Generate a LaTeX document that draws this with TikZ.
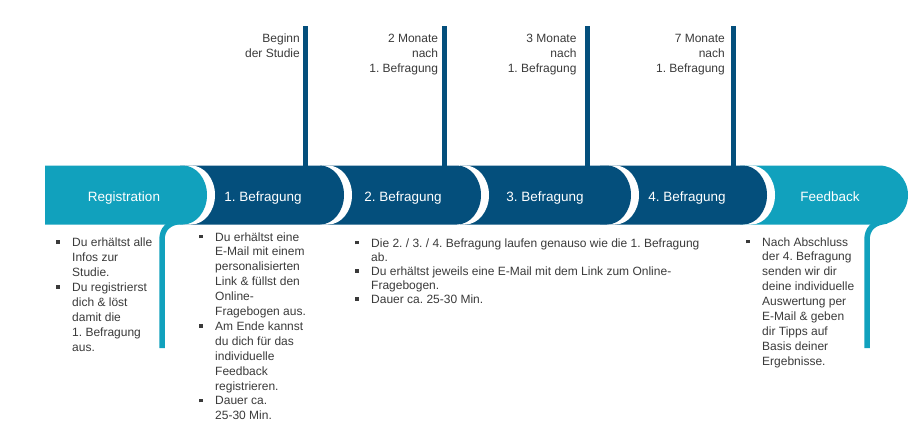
\documentclass[tikz,border=0pt]{standalone}
\usepackage{fontspec}
\setmainfont{Liberation Sans}
\usepackage{array}
\frenchspacing
\definecolor{dblue}{RGB}{4,79,124}
\definecolor{lteal}{RGB}{17,161,189}
\definecolor{txt}{RGB}{58,58,58}
\newcommand{\sqb}{\textcolor{txt}{\rule[2.6pt]{3.8pt}{3.8pt}}}
% xs, xe, rx, colour
\newcommand{\mysegment}[4]{%
  \fill[white] (#1+8,165.5) -- (#2-#3+8,165.5) arc[start angle=90,end angle=-90,x radius={#3pt},y radius=29.5pt] -- (#1+8,224.5) -- cycle;
  \fill[#4] (#1,165.5) -- (#2-#3,165.5) arc[start angle=90,end angle=-90,x radius={#3pt},y radius=29.5pt] -- (#1,224.5) -- cycle;
}
\begin{document}
\begin{tikzpicture}[x=1pt,y=-1pt,
  lbl/.style={text=white,font=\fontsize{13.5}{16}\selectfont,anchor=base,inner sep=0pt},
  toplbl/.style={text=txt,font=\fontsize{12}{15}\selectfont,anchor=base east,inner sep=0pt},
  bul/.style={text=txt,font=\fontsize{12}{14.9}\selectfont,anchor=base west,inner sep=0pt},
  tickline/.style={draw=dblue,line width=5pt},
  tail/.style={draw=lteal,line width=5.5pt}
]
\useasboundingbox (0,0) rectangle (918,440);

% segments, right to left so that each left one lies on top
\mysegment{740}{908}{29}{lteal}
\mysegment{600}{767}{24}{dblue}
\mysegment{460}{631}{24}{dblue}
\mysegment{320}{481}{24}{dblue}
\mysegment{180}{344}{24}{dblue}
\mysegment{45}{207}{24}{lteal}

% tails
\coordinate (t1b) at (162,348);
\coordinate (t1a) at (162,240);
\coordinate (t1c) at (182,221);
\draw[tail] (t1b) -- (t1a) .. controls (162,229) and (168,222.5) .. (t1c);
\coordinate (t2b) at (867,348);
\coordinate (t2a) at (867,240);
\coordinate (t2c) at (887,221);
\draw[tail] (t2b) -- (t2a) .. controls (867,229) and (873,222.5) .. (t2c);

% tick lines
\coordinate (k1t) at (305.5,26); \coordinate (k1b) at (305.5,170);
\coordinate (k2t) at (444.5,26); \coordinate (k2b) at (444.5,170);
\coordinate (k3t) at (587,26);   \coordinate (k3b) at (587,170);
\coordinate (k4t) at (733.5,26); \coordinate (k4b) at (733.5,170);
\draw[tickline] (k1t) -- (k1b);
\draw[tickline] (k2t) -- (k2b);
\draw[tickline] (k3t) -- (k3b);
\draw[tickline] (k4t) -- (k4b);

% bar labels
\node[lbl] (s0) at (124,201.5) {Registration};
\node[lbl] (s1) at (263,201.5) {1. Befragung};
\node[lbl] (s2) at (403,201.5) {2. Befragung};
\node[lbl] (s3) at (545,201.5) {3. Befragung};
\node[lbl] (s4) at (687,201.5) {4. Befragung};
\node[lbl] (s5) at (830,201.5) {Feedback};

% top labels
\node[toplbl] (m1) at (300,42.8) {\begin{tabular}[t]{@{}r@{}}Beginn\\der Studie\end{tabular}};
\node[toplbl] (m2) at (438.3,42.8) {\begin{tabular}[t]{@{}r@{}}2 Monate\\nach\\1. Befragung\end{tabular}};
\node[toplbl] (m3) at (576.7,42.8) {\begin{tabular}[t]{@{}r@{}}3 Monate\\nach\\1. Befragung\end{tabular}};
\node[toplbl] (m4) at (725,42.8) {\begin{tabular}[t]{@{}r@{}}7 Monate\\nach\\1. Befragung\end{tabular}};

% bullet texts
\node[bul] (b1) at (56,246.7) {\begin{tabular}[t]{@{}p{16pt}@{}l@{}}
\sqb & Du erhältst alle\\
 & Infos zur\\
 & Studie.\\
\sqb & Du registrierst\\
 & dich \& löst\\
 & damit die\\
 & 1. Befragung\\
 & aus.
\end{tabular}};
\node[bul] (b2) at (199,241) {\begin{tabular}[t]{@{}p{16pt}@{}l@{}}
\sqb & Du erhältst eine\\
 & E-Mail mit einem\\
 & personalisierten\\
 & Link \& füllst den\\
 & Online-\\
 & Fragebogen aus.\\
\sqb & Am Ende kannst\\
 & du dich für das\\
 & individuelle\\
 & Feedback\\
 & registrieren.\\
\sqb & Dauer ca.\\
 & 25-30 Min.
\end{tabular}};
\node[bul,font=\fontsize{12}{14.1}\selectfont] (b3) at (355,247) {\begin{tabular}[t]{@{}p{16pt}@{}l@{}}
\sqb & Die 2. / 3. / 4. Befragung laufen genauso wie die 1. Befragung\\
 & ab.\\
\sqb & Du erhältst jeweils eine E-Mail mit dem Link zum Online-\\
 & Fragebogen.\\
\sqb & Dauer ca. 25-30 Min.
\end{tabular}};
\node[bul] (b4) at (746,246) {\begin{tabular}[t]{@{}p{16pt}@{}l@{}}
\sqb & Nach Abschluss\\
 & der 4. Befragung\\
 & senden wir dir\\
 & deine individuelle\\
 & Auswertung per\\
 & E-Mail \& geben\\
 & dir Tipps auf\\
 & Basis deiner\\
 & Ergebnisse.
\end{tabular}};
\end{tikzpicture}
\end{document}
